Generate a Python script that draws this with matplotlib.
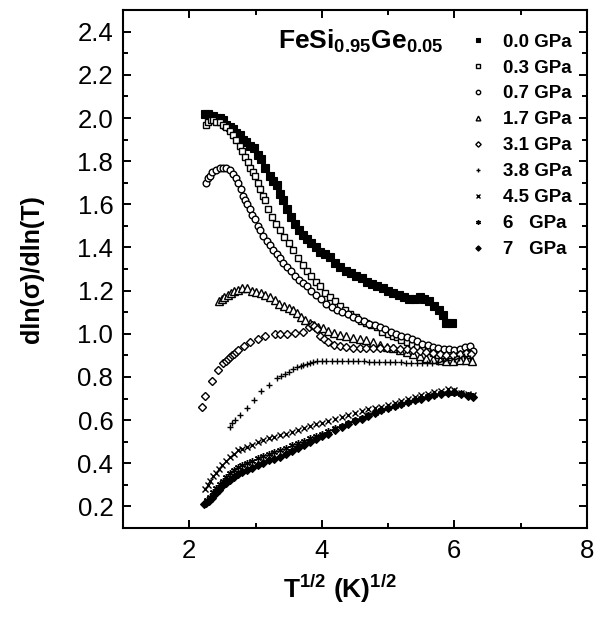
import matplotlib
matplotlib.use("Agg")
import matplotlib.pyplot as plt
from matplotlib.ticker import MultipleLocator

plt.rcParams['font.family'] = ['Liberation Sans', 'DejaVu Sans']
plt.rcParams['mathtext.fontset'] = 'custom'
plt.rcParams['mathtext.rm'] = 'Liberation Sans'
plt.rcParams['mathtext.bf'] = 'Liberation Sans:bold'
plt.rcParams['mathtext.it'] = 'Liberation Sans:italic'

# ---------------- data ----------------
x_00 = [2.24, 2.28, 2.32, 2.36, 2.41, 2.46, 2.51, 2.56, 2.61, 2.66, 2.71, 2.76, 2.81, 2.86, 2.91, 2.97,
        3.03, 3.09, 3.15, 3.22, 3.27, 3.32, 3.37, 3.42, 3.47, 3.53, 3.59, 3.65, 3.71, 3.77, 3.84, 3.91,
        3.98, 4.05, 4.12, 4.20, 4.28, 4.36, 4.44, 4.52, 4.60, 4.68, 4.76, 4.84, 4.92, 5.00, 5.08, 5.16,
        5.24, 5.32, 5.40, 5.48, 5.55, 5.62, 5.70, 5.77, 5.83, 5.88, 5.96]
y_00 = [2.02, 2.02, 2.01, 2.01, 2.00, 2.00, 1.99, 1.97, 1.96, 1.95, 1.93, 1.92, 1.90, 1.89, 1.87, 1.86,
        1.83, 1.81, 1.77, 1.73, 1.71, 1.69, 1.65, 1.62, 1.58, 1.54, 1.51, 1.48, 1.46, 1.44, 1.42, 1.40,
        1.38, 1.37, 1.355, 1.33, 1.31, 1.29, 1.28, 1.27, 1.26, 1.24, 1.23, 1.22, 1.21, 1.20, 1.19, 1.18,
        1.17, 1.16, 1.16, 1.17, 1.16, 1.15, 1.13, 1.11, 1.085, 1.05, 1.05]

x_03 = [2.26, 2.29, 2.33, 2.36, 2.41, 2.46, 2.51, 2.56, 2.61, 2.66, 2.71, 2.76, 2.80, 2.84, 2.88, 2.92,
        2.96, 2.99, 3.03, 3.07, 3.11, 3.14, 3.19, 3.25, 3.31, 3.37, 3.43, 3.50, 3.57, 3.64, 3.71, 3.77,
        3.84, 3.91, 3.97, 4.05, 4.13, 4.20, 4.27, 4.35, 4.43, 4.51, 4.59, 4.67, 4.75, 4.83, 4.91, 5.00,
        5.07, 5.13, 5.20, 5.28, 5.36, 5.44, 5.52, 5.60, 5.68, 5.76, 5.84, 5.92, 6.00, 6.08, 6.16, 6.24]
y_03 = [1.97, 1.98, 1.99, 1.99, 1.98, 1.98, 1.97, 1.96, 1.94, 1.92, 1.90, 1.87, 1.845, 1.82, 1.795, 1.77,
        1.75, 1.73, 1.70, 1.67, 1.64, 1.62, 1.58, 1.54, 1.51, 1.48, 1.45, 1.42, 1.39, 1.35, 1.32, 1.29,
        1.27, 1.24, 1.22, 1.19, 1.17, 1.15, 1.13, 1.11, 1.09, 1.08, 1.06, 1.05, 1.04, 1.03, 1.01, 1.00,
        0.99, 0.985, 0.97, 0.96, 0.95, 0.94, 0.93, 0.92, 0.91, 0.90, 0.90, 0.90, 0.91, 0.91, 0.92, 0.91]

x_07 = [2.26, 2.28, 2.31, 2.35, 2.40, 2.46, 2.51, 2.56, 2.61, 2.66, 2.70, 2.74, 2.78, 2.81, 2.84, 2.87,
        2.91, 2.95, 2.99, 3.03, 3.07, 3.12, 3.17, 3.22, 3.27, 3.32, 3.37, 3.42, 3.47, 3.53, 3.59, 3.65,
        3.71, 3.77, 3.84, 3.91, 3.99, 4.07, 4.15, 4.23, 4.31, 4.39, 4.47, 4.55, 4.63, 4.72, 4.80, 4.88,
        4.96, 5.04, 5.12, 5.20, 5.28, 5.36, 5.44, 5.52, 5.60, 5.68, 5.76, 5.84, 5.92, 6.00, 6.08, 6.16,
        6.23, 6.28]
y_07 = [1.70, 1.72, 1.73, 1.75, 1.76, 1.77, 1.77, 1.77, 1.76, 1.74, 1.72, 1.70, 1.67, 1.64, 1.62, 1.60,
        1.58, 1.55, 1.53, 1.50, 1.48, 1.455, 1.43, 1.41, 1.39, 1.37, 1.35, 1.33, 1.31, 1.29, 1.27, 1.25,
        1.235, 1.22, 1.20, 1.18, 1.16, 1.14, 1.125, 1.11, 1.10, 1.09, 1.08, 1.07, 1.06, 1.045, 1.04, 1.03,
        1.02, 1.01, 1.00, 0.99, 0.985, 0.975, 0.965, 0.955, 0.95, 0.94, 0.935, 0.93, 0.93, 0.925, 0.93, 0.94,
        0.945, 0.92]

x_17 = [2.45, 2.49, 2.53, 2.58, 2.63, 2.68, 2.74, 2.80, 2.87, 2.94, 3.01, 3.08, 3.15, 3.22, 3.29, 3.36,
        3.43, 3.50, 3.57, 3.63, 3.69, 3.75, 3.82, 3.88, 3.95, 4.02, 4.10, 4.18, 4.27, 4.37, 4.47, 4.57,
        4.67, 4.77, 4.88, 4.98, 5.08, 5.18, 5.28, 5.38, 5.48, 5.58, 5.68, 5.78, 5.88, 5.98, 6.08, 6.18,
        6.26]
y_17 = [1.15, 1.16, 1.17, 1.18, 1.19, 1.20, 1.205, 1.21, 1.21, 1.20, 1.195, 1.19, 1.18, 1.17, 1.155, 1.14,
        1.13, 1.12, 1.11, 1.095, 1.08, 1.065, 1.05, 1.04, 1.03, 1.025, 1.015, 1.005, 0.995, 0.99, 0.98, 0.975,
        0.97, 0.96, 0.95, 0.94, 0.935, 0.925, 0.915, 0.905, 0.895, 0.89, 0.885, 0.88, 0.875, 0.875, 0.88, 0.88,
        0.875]

x_31 = [2.19, 2.24, 2.35, 2.44, 2.51, 2.55, 2.58, 2.61, 2.64, 2.67, 2.70, 2.74, 2.82, 2.92, 3.04, 3.14,
        3.29, 3.37, 3.47, 3.59, 3.72, 3.80, 3.85, 3.89, 3.93, 3.97, 4.03, 4.10, 4.18, 4.27, 4.37, 4.47,
        4.57, 4.67, 4.77, 4.88, 4.98, 5.08, 5.18, 5.28, 5.38, 5.48, 5.58, 5.68, 5.78, 5.88, 5.98, 6.08,
        6.18, 6.25]
y_31 = [0.66, 0.71, 0.78, 0.83, 0.865, 0.875, 0.885, 0.893, 0.90, 0.908, 0.915, 0.927, 0.945, 0.962, 0.978, 0.99,
        1.00, 1.00, 1.00, 1.005, 1.01, 1.03, 1.04, 1.035, 1.02, 0.99, 0.975, 0.96, 0.95, 0.945, 0.94, 0.935,
        0.935, 0.935, 0.935, 0.935, 0.935, 0.935, 0.93, 0.93, 0.925, 0.92, 0.915, 0.91, 0.905, 0.90, 0.90, 0.905,
        0.91, 0.905]

x_38 = [2.61, 2.65, 2.69, 2.76, 2.87, 2.97, 3.09, 3.21, 3.32, 3.38, 3.44, 3.50, 3.57, 3.63, 3.68, 3.72,
        3.77, 3.82, 3.87, 3.93, 4.00, 4.07, 4.15, 4.23, 4.31, 4.39, 4.47, 4.55, 4.63, 4.71, 4.79, 4.87,
        4.95, 5.03, 5.11, 5.19, 5.27, 5.35, 5.43, 5.51, 5.59, 5.67, 5.75, 5.83, 5.91, 5.99, 6.07, 6.15,
        6.24]
y_38 = [0.57, 0.585, 0.60, 0.623, 0.654, 0.693, 0.736, 0.762, 0.793, 0.805, 0.813, 0.825, 0.835, 0.845, 0.85, 0.855,
        0.86, 0.865, 0.87, 0.872, 0.875, 0.875, 0.876, 0.876, 0.875, 0.874, 0.873, 0.872, 0.872, 0.871, 0.87, 0.87,
        0.87, 0.869, 0.868, 0.868, 0.867, 0.867, 0.866, 0.865, 0.864, 0.866, 0.87, 0.875, 0.88, 0.885, 0.89, 0.895,
        0.89]

x_45 = [2.24, 2.28, 2.32, 2.36, 2.40, 2.45, 2.50, 2.55, 2.61, 2.67, 2.74, 2.80, 2.87, 2.95, 3.03, 3.11,
        3.20, 3.28, 3.37, 3.46, 3.55, 3.64, 3.73, 3.82, 3.91, 4.00, 4.10, 4.20, 4.30, 4.40, 4.50, 4.60,
        4.70, 4.80, 4.90, 5.00, 5.10, 5.20, 5.30, 5.40, 5.50, 5.60, 5.70, 5.80, 5.90, 6.00, 6.10, 6.20,
        6.28]
y_45 = [0.28, 0.30, 0.32, 0.34, 0.355, 0.375, 0.39, 0.41, 0.43, 0.445, 0.46, 0.468, 0.476, 0.487, 0.497, 0.507,
        0.515, 0.522, 0.53, 0.538, 0.546, 0.555, 0.564, 0.572, 0.58, 0.587, 0.597, 0.607, 0.616, 0.625, 0.633, 0.642,
        0.65, 0.656, 0.663, 0.671, 0.68, 0.69, 0.70, 0.709, 0.716, 0.723, 0.73, 0.737, 0.742, 0.738, 0.728, 0.72,
        0.716]

x_60 = [2.27, 2.31, 2.36, 2.41, 2.46, 2.51, 2.56, 2.61, 2.67, 2.74, 2.80, 2.87, 2.95, 3.03, 3.11, 3.20,
        3.28, 3.37, 3.46, 3.55, 3.64, 3.73, 3.82, 3.91, 4.00, 4.10, 4.20, 4.30, 4.40, 4.50, 4.60, 4.70,
        4.80, 4.90, 5.00, 5.10, 5.20, 5.30, 5.40, 5.50, 5.60, 5.70, 5.80, 5.90, 6.00, 6.10, 6.20, 6.27]
y_60 = [0.23, 0.245, 0.265, 0.285, 0.305, 0.32, 0.337, 0.353, 0.368, 0.383, 0.392, 0.40, 0.412, 0.423, 0.433, 0.443,
        0.452, 0.461, 0.472, 0.483, 0.494, 0.505, 0.516, 0.527, 0.538, 0.55, 0.562, 0.574, 0.587, 0.60, 0.612, 0.624,
        0.635, 0.646, 0.657, 0.667, 0.677, 0.686, 0.695, 0.703, 0.711, 0.718, 0.724, 0.728, 0.726, 0.72, 0.715, 0.71]

x_70 = [2.22, 2.26, 2.30, 2.35, 2.40, 2.45, 2.50, 2.55, 2.61, 2.67, 2.74, 2.80, 2.87, 2.95, 3.03, 3.11,
        3.20, 3.28, 3.37, 3.46, 3.55, 3.64, 3.73, 3.82, 3.91, 4.00, 4.10, 4.20, 4.30, 4.40, 4.50, 4.60,
        4.70, 4.80, 4.90, 5.00, 5.10, 5.20, 5.30, 5.40, 5.50, 5.60, 5.70, 5.80, 5.90, 6.00, 6.10, 6.20,
        6.28]
y_70 = [0.21, 0.215, 0.225, 0.24, 0.26, 0.278, 0.293, 0.307, 0.322, 0.336, 0.35, 0.36, 0.369, 0.38, 0.392, 0.403,
        0.413, 0.421, 0.43, 0.443, 0.457, 0.47, 0.484, 0.498, 0.512, 0.525, 0.538, 0.552, 0.566, 0.58, 0.594, 0.607,
        0.62, 0.633, 0.646, 0.656, 0.666, 0.676, 0.685, 0.693, 0.70, 0.708, 0.715, 0.722, 0.728, 0.73, 0.72, 0.71,
        0.705]

labels = ["0.0 GPa", "0.3 GPa", "0.7 GPa", "1.7 GPa", "3.1 GPa", "3.8 GPa", "4.5 GPa", "6   GPa", "7   GPa"]

# ---------------- plot ----------------
fig = plt.figure(figsize=(6.0, 6.18), dpi=100)
ax = fig.add_axes([0.205, 0.1456, 0.773, 0.838])

k = 'black'
series = [
    (x_00, y_00, dict(marker='s', ms=5.2, mfc=k, mec=k, mew=0.8)),
    (x_03, y_03, dict(marker='s', ms=4.8, mfc='white', mec=k, mew=1.0)),
    (x_07, y_07, dict(marker='o', ms=4.8, mfc='white', mec=k, mew=1.0)),
    (x_17, y_17, dict(marker='^', ms=5.2, mfc='white', mec=k, mew=1.0)),
    (x_31, y_31, dict(marker='D', ms=4.2, mfc='white', mec=k, mew=1.0)),
    (x_38, y_38, dict(marker='+', ms=5.0, mfc=k, mec=k, mew=1.0)),
    (x_45, y_45, dict(marker='x', ms=4.0, mfc=k, mec=k, mew=1.0)),
    (x_60, y_60, dict(marker=(6, 2, 0), ms=5.0, mfc=k, mec=k, mew=1.0)),
    (x_70, y_70, dict(marker='D', ms=4.2, mfc=k, mec=k, mew=0.8)),
]
for (xs, ys, st), lab in zip(series, labels):
    ax.plot(xs, ys, linestyle='none', label=lab, **st)

ax.set_xlim(1, 8)
ax.set_ylim(0.1, 2.5)
ax.xaxis.set_major_locator(MultipleLocator(2))
ax.xaxis.set_minor_locator(MultipleLocator(1))
ax.yaxis.set_major_locator(MultipleLocator(0.2))
ax.yaxis.set_minor_locator(MultipleLocator(0.1))
ax.yaxis.set_major_formatter(matplotlib.ticker.FormatStrFormatter('%.1f'))

for s in ax.spines.values():
    s.set_linewidth(1.5)
ax.tick_params(which='both', direction='in', top=True, right=True, width=1.4, labelsize=18.5)
ax.tick_params(which='major', length=6)
ax.tick_params(which='minor', length=3.5)
ax.tick_params(axis='x', which='major', pad=8)
ax.tick_params(axis='y', which='major', pad=7)

ax.set_xlabel(r'T$^{\mathbf{1/2}}$ (K)$^{\mathbf{1/2}}$', fontsize=19, fontweight='bold', labelpad=7)
ax.xaxis.label.set_x(0.468)
ax.set_ylabel('dln(σ)/dln(T)', fontsize=18, fontweight='bold', labelpad=24)

ax.text(0.334, 0.925, r'FeSi$_{\mathbf{0.95}}$Ge$_{\mathbf{0.05}}$', transform=ax.transAxes,
        fontsize=19, fontweight='bold', ha='left', va='baseline')

leg = ax.legend(loc='upper right', bbox_to_anchor=(0.968, 0.955), frameon=False,
                prop={'weight': 'bold', 'size': 13.5}, markerscale=0.65, handlelength=1.0,
                handletextpad=0.85, labelspacing=0.47, borderpad=0, borderaxespad=0, numpoints=1)

fig.savefig('out.png', dpi=100)
